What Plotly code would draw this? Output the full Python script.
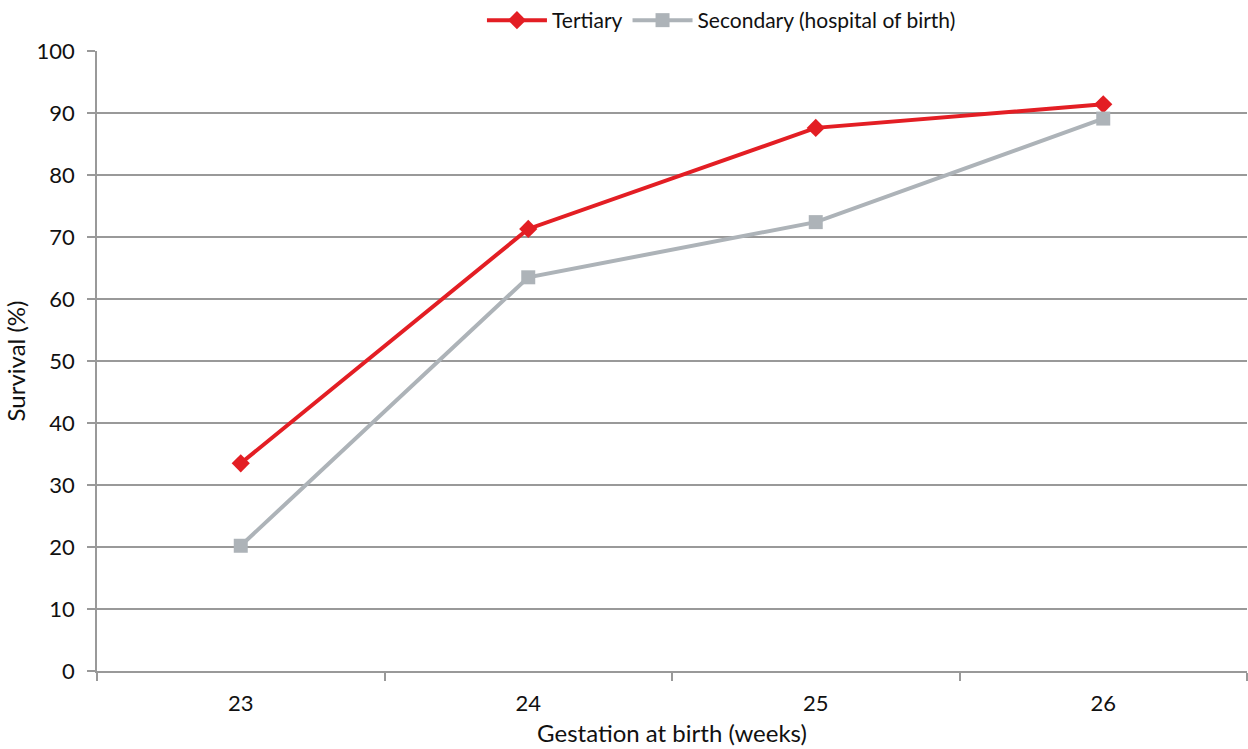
import plotly.graph_objects as go

weeks = [23, 24, 25, 26]
tertiary = [33.5, 71.3, 87.6, 91.4]
secondary = [20.2, 63.5, 72.4, 89.1]
y_ticks = [0, 10, 20, 30, 40, 50, 60, 70, 80, 90, 100]

fig = go.Figure()
fig.add_trace(go.Scatter(
    x=weeks, y=tertiary, name="Tertiary", mode="lines+markers",
    line=dict(color="#E31E24", width=4),
    marker=dict(symbol="diamond", size=14, color="#E31E24"),
))
fig.add_trace(go.Scatter(
    x=weeks, y=secondary, name="Secondary (hospital of birth)", mode="lines+markers",
    line=dict(color="#ADB3B8", width=4),
    marker=dict(symbol="square", size=14, color="#ADB3B8"),
))

font_family = "Lato, Open Sans, sans-serif"
fig.update_layout(
    width=1248, height=749,
    margin=dict(l=97, r=1, t=50, b=78),
    plot_bgcolor="white", paper_bgcolor="white",
    font=dict(family=font_family, size=22, color="#111111"),
    showlegend=True,
    legend=dict(orientation="h", x=0.543, xanchor="center", y=1.048, yanchor="middle",
                font=dict(size=21), itemwidth=60, tracegroupgap=0, traceorder="normal"),
    xaxis=dict(
        range=[22.5, 26.5], tickvals=weeks, ticktext=[str(w) for w in weeks],
        ticks="", showgrid=False, zeroline=False,
        showline=True, linecolor="#999999", linewidth=1.5,
        minor=dict(tickvals=[22.5, 23.5, 24.5, 25.5, 26.5], ticks="outside",
                   ticklen=8, tickcolor="#999999", tickwidth=1.5, showgrid=False),
        title=dict(text="Gestation at birth (weeks)", font=dict(size=24), standoff=10),
        tickfont=dict(size=22), ticklabelstandoff=12,
    ),
    yaxis=dict(
        range=[0, 100], tickvals=y_ticks, ticks="outside", ticklen=8,
        tickcolor="#999999", tickwidth=1.5,
        showgrid=True, gridcolor="#999999", gridwidth=1.5, zeroline=False,
        showline=True, linecolor="#999999", linewidth=1.5,
        title=dict(text="Survival (%)", font=dict(size=24), standoff=4),
        tickfont=dict(size=22), ticklabelstandoff=8,
    ),
)

fig.write_html("out.html")
